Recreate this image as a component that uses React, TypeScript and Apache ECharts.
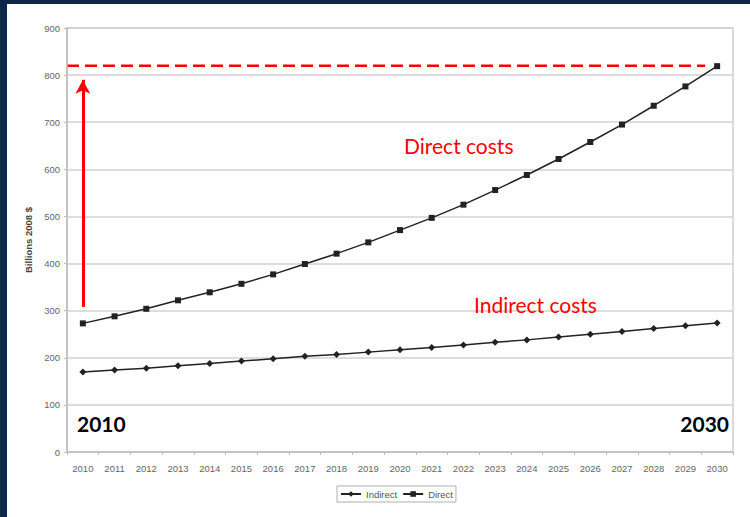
import React, { useEffect, useRef } from "react";
import * as echarts from "echarts";

const years = [
  "2010", "2011", "2012", "2013", "2014", "2015", "2016", "2017", "2018", "2019", "2020",
  "2021", "2022", "2023", "2024", "2025", "2026", "2027", "2028", "2029", "2030",
];
const indirect = [170, 174, 178, 183, 188, 193, 198, 203, 207, 212, 217, 222, 227, 233, 238, 244, 250, 256, 262, 268, 274];
const direct = [273, 288, 304, 322, 339, 357, 377, 399, 421, 445, 471, 497, 525, 556, 588, 622, 658, 695, 735, 776, 819];
const yTicks = { min: 0, max: 900, step: 100 };
const targetLevel = 820;
const arrowFrom = 308;
const arrowTo = 790;

const RED = "#ff0000";
const LINE = "#222222";
const AXIS_FONT = "Liberation Sans, Arial, sans-serif";
const NOTE_FONT = "Lato, Open Sans, sans-serif";

export default function App() {
  const ref = useRef<HTMLDivElement>(null);

  useEffect(() => {
    if (!ref.current) return;
    const chart = echarts.init(ref.current, undefined, { renderer: "svg" });
    chart.setOption({
      animation: false,
      backgroundColor: "#ffffff",
      grid: {
        left: 60,
        right: 17,
        top: 24,
        bottom: 65,
        show: true,
        borderColor: "#cfcfcf",
        borderWidth: 1.5,
      },
      legend: {
        left: 330,
        top: 482,
        padding: [3, 3],
        borderColor: "#b0b0b0",
        borderWidth: 1,
        itemGap: 5,
        itemWidth: 20,
        itemHeight: 7,
        textStyle: { fontFamily: AXIS_FONT, fontSize: 9.5, color: "#555" },
        data: ["Indirect", "Direct"],
      },
      xAxis: {
        type: "category",
        data: years,
        boundaryGap: true,
        axisLine: { lineStyle: { color: "#bdbdbd", width: 1.5 } },
        axisTick: { show: true, length: 3, lineStyle: { color: "#bdbdbd" } },
        axisLabel: { color: "#666", fontSize: 9.5, fontFamily: AXIS_FONT, margin: 11, interval: 0 },
      },
      yAxis: {
        type: "value",
        min: yTicks.min,
        max: yTicks.max,
        interval: yTicks.step,
        name: "Billions 2008 $",
        nameLocation: "middle",
        nameGap: 31,
        nameTextStyle: { fontFamily: AXIS_FONT, fontSize: 9.5, fontWeight: "bold", color: "#444" },
        axisLine: { show: true, lineStyle: { color: "#bdbdbd", width: 1.5 } },
        axisTick: { show: true, length: 3, lineStyle: { color: "#bdbdbd" } },
        axisLabel: { color: "#666", fontSize: 9.5, fontFamily: AXIS_FONT, margin: 7 },
        splitLine: { lineStyle: { color: "#d2d2d2", width: 1.5 } },
      },
      series: [
        {
          name: "Indirect",
          type: "line",
          data: indirect,
          symbol: "diamond",
          symbolSize: 7,
          itemStyle: { color: LINE },
          lineStyle: { color: LINE, width: 1.5 },
        },
        {
          name: "Direct",
          type: "line",
          data: direct,
          symbol: "rect",
          symbolSize: 6,
          itemStyle: { color: LINE },
          lineStyle: { color: LINE, width: 1.5 },
          markLine: {
            silent: true,
            symbol: ["none", "arrow"],
            symbolSize: [11, 14],
            label: { show: false },
            lineStyle: { color: RED, width: 3, type: "solid" },
            data: [[{ coord: [years[0], arrowFrom] }, { coord: [years[0], arrowTo] }]],
          },
        },
      ],
    });

    // Dashed target line from the y axis to just short of the last point
    const y = chart.convertToPixel({ yAxisIndex: 0 }, targetLevel) as number;
    const xLast = chart.convertToPixel({ xAxisIndex: 0 }, years[years.length - 1]) as number;

    chart.setOption({
      graphic: [
        {
          type: "line",
          shape: { x1: 60, y1: y, x2: xLast - 12, y2: y },
          style: { stroke: RED, lineWidth: 2.5, lineDash: [12, 6] },
          silent: true,
        },
        {
          type: "text",
          x: 397,
          y: 141,
          style: { text: "Direct costs", fill: RED, font: `21px ${NOTE_FONT}`, verticalAlign: "middle" },
        },
        {
          type: "text",
          x: 467,
          y: 300,
          style: { text: "Indirect costs", fill: RED, font: `21px ${NOTE_FONT}`, verticalAlign: "middle" },
        },
        {
          type: "text",
          x: 70,
          y: 419,
          style: { text: "2010", fill: "#000", font: `bold 21px ${NOTE_FONT}`, verticalAlign: "middle" },
        },
        {
          type: "text",
          x: 722,
          y: 419,
          style: { text: "2030", fill: "#000", font: `bold 21px ${NOTE_FONT}`, verticalAlign: "middle", align: "right" },
        },
      ],
    });

    return () => chart.dispose();
  }, []);

  return (
    <div
      style={{
        position: "fixed",
        left: 0,
        top: 0,
        width: 750,
        height: 517,
        background: "#11274a",
      }}
    >
      <div ref={ref} style={{ position: "absolute", left: 7, top: 4, width: 743, height: 513 }} />
    </div>
  );
}
